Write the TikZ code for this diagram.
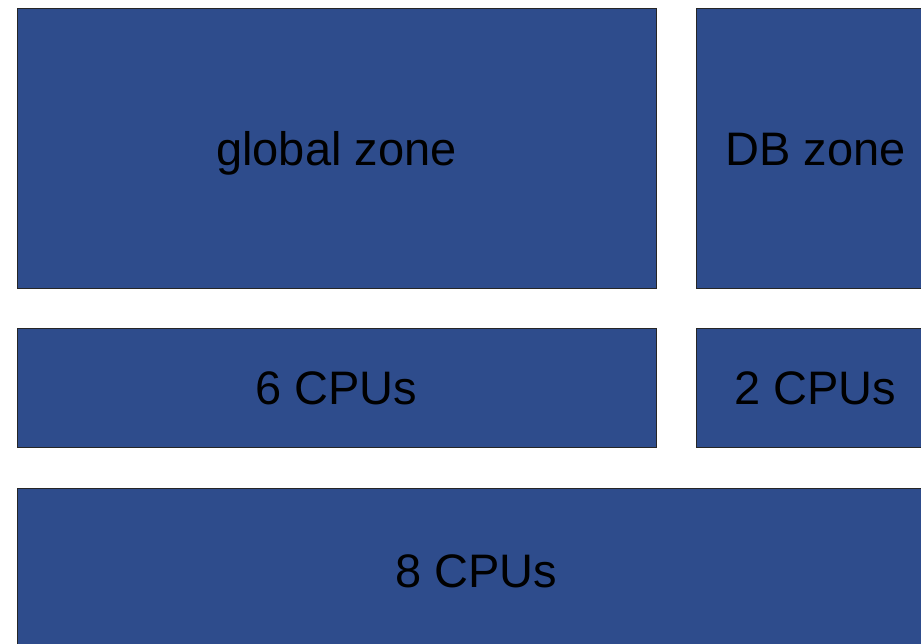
\documentclass[tikz,border=0pt]{standalone}
\usepackage{fontspec}
\setmainfont{Liberation Sans}
\definecolor{zoneblue}{RGB}{46,76,140}
\tikzset{zone/.style={draw=black!85,fill=zoneblue,line width=0.8pt},
	zonetext/.style={font=\fontsize{47}{47}\selectfont,text=black,text height=34pt,text depth=0pt}}
\begin{document}
\begin{tikzpicture}[x=1pt,y=-1pt]
	% Frame of the picture
	\useasboundingbox (0,0) rectangle (921,643);
	\clip (0,0) rectangle (921,643);
	% Zones
	\draw[zone] (17,8.5) rectangle (656,288) node[midway,zonetext] (global) {global zone};
	\draw[zone] (696,8.5) rectangle (935,288) node[midway,zonetext] (db) {DB zone};
	% CPU sets
	\draw[zone] (17,328) rectangle (656,447.5) node[midway,zonetext] (cpusix) {6 CPUs};
	\draw[zone] (696,328) rectangle (935,447.5) node[midway,zonetext] (cputwo) {2 CPUs};
	\draw[zone] (17,488) rectangle (935,652) node[midway,zonetext] (cpueight) {8 CPUs};
\end{tikzpicture}
\end{document}
